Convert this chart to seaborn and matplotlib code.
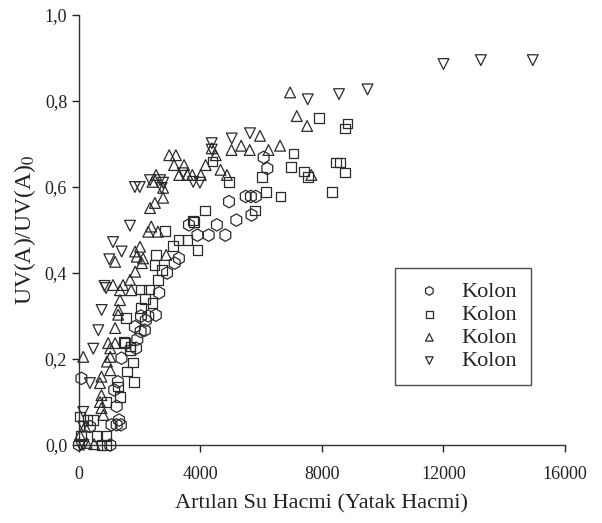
import matplotlib
matplotlib.use("Agg")
import matplotlib.pyplot as plt
import seaborn as sns
from matplotlib.ticker import FuncFormatter

# series 1 (hexagon)
hex_x = [0, 80, 360, 1030, 1070, 1240, 1320, 1380, 1240, 1160, 1280, 1400, 1880, 1920, 2030,
         2040, 1840, 2170, 2200, 2280, 2530, 2640, 2900, 3150, 3290, 3620, 3900, 4270, 4540,
         4820, 4940, 5180, 5490, 5660, 5820, 5680, 6080, 6200]
hex_y = [0.0, 0.155, 0.043, 0.0, 0.047, 0.047, 0.058, 0.047, 0.09, 0.128, 0.147, 0.202, 0.225,
         0.246, 0.264, 0.30, 0.275, 0.267, 0.29, 0.30, 0.302, 0.354, 0.40, 0.423, 0.434, 0.512,
         0.488, 0.488, 0.512, 0.488, 0.566, 0.523, 0.578, 0.578, 0.578, 0.535, 0.669, 0.643]

# series 2 (square)
sq_x = [30, 70, 280, 470, 580, 740, 910, 910, 910, 1290, 1350, 1480, 1510, 1540, 1590, 1680,
        1700, 1770, 1810, 2050, 2050, 2170, 2300, 2420, 2480, 2540, 2610, 2730, 2840, 3100,
        3280, 3570, 3750, 3790, 3900, 4150, 4390, 4940, 5800, 6030, 6150, 6630, 6980, 7060,
        7400, 7540, 7900, 8330, 8460, 8590, 8750, 8760, 8840]
sq_y = [0.066, 0.021, 0.058, 0.058, 0.021, 0.0, 0.0, 0.021, 0.10, 0.136, 0.112, 0.24, 0.237,
        0.295, 0.171, 0.221, 0.229, 0.192, 0.147, 0.362, 0.318, 0.339, 0.362, 0.330, 0.419,
        0.442, 0.384, 0.407, 0.498, 0.463, 0.477, 0.477, 0.522, 0.519, 0.453, 0.545, 0.659,
        0.612, 0.545, 0.624, 0.589, 0.578, 0.647, 0.678, 0.636, 0.623, 0.76, 0.588, 0.657,
        0.657, 0.634, 0.736, 0.748]

# series 3 (triangle up)
up_x = [30, 250, 500, 200, 140, 800, 740, 690, 740, 690, 740, 1030, 920, 1030, 1030, 960,
        1190, 1190, 1290, 1290, 1350, 1350, 1720, 1120, 1450, 1680, 1850, 2070, 1190, 2110,
        1900, 2870, 1850, 2010, 2280, 2600, 2380, 2340, 2500, 2770, 2770, 2420, 2540, 2970,
        3190, 3130, 3460, 3300, 3570, 3730, 4010, 4170, 4370, 4500, 4660, 4870, 5020, 5340,
        5620, 5960, 6240, 6620, 6950, 7170, 7510, 7650]
up_y = [0.023, 0.005, 0.002, 0.043, 0.205, 0.07, 0.086, 0.10, 0.116, 0.144, 0.159, 0.174,
        0.194, 0.205, 0.225, 0.237, 0.237, 0.272, 0.303, 0.314, 0.337, 0.36, 0.36, 0.372,
        0.372, 0.384, 0.403, 0.423, 0.426, 0.434, 0.438, 0.442, 0.45, 0.461, 0.496, 0.496,
        0.508, 0.551, 0.563, 0.575, 0.598, 0.612, 0.628, 0.674, 0.674, 0.651, 0.651, 0.628,
        0.628, 0.628, 0.628, 0.651, 0.69, 0.674, 0.64, 0.628, 0.686, 0.696, 0.686, 0.719,
        0.686, 0.696, 0.82, 0.765, 0.742, 0.628]

# series 4 (triangle down)
dn_x = [50, 150, 140, 140, 360, 470, 636, 746, 890, 840, 998, 1120, 1405, 1680, 1840, 2000,
        2340, 2670, 2720, 2770, 3420, 3760, 3980, 4370, 4370, 5030, 5630, 7530, 8560, 9500,
        12000, 13230, 14940]
dn_y = [0.0, 0.0, 0.043, 0.077, 0.144, 0.224, 0.267, 0.314, 0.365, 0.37, 0.432, 0.472, 0.45,
        0.51, 0.60, 0.60, 0.616, 0.616, 0.598, 0.61, 0.632, 0.612, 0.61, 0.702, 0.687, 0.713,
        0.725, 0.804, 0.816, 0.827, 0.886, 0.895, 0.895]

labels = ["Kolon", "Kolon", "Kolon", "Kolon"]
x_ticks = [0, 4000, 8000, 12000, 16000]
y_ticks = [0.0, 0.2, 0.4, 0.6, 0.8, 1.0]

sns.set_style("ticks")
plt.rcParams["font.family"] = ["Liberation Serif", "DejaVu Serif"]
plt.rcParams["mathtext.fontset"] = "stix"

fig = plt.figure(figsize=(6.02, 5.23), dpi=100)
ax = fig.add_axes([0.1312, 0.1491, 0.8073, 0.8222])

series = [(hex_x, hex_y, "h", 80), (sq_x, sq_y, "s", 48),
          (up_x, up_y, "^", 60), (dn_x, dn_y, "v", 60)]
for (xs, ys, m, s), lab in zip(series, labels):
    sns.scatterplot(x=xs, y=ys, marker=m, s=s, edgecolor="#2a2a2a", linewidth=0.9,
                    label=lab, clip_on=False, ax=ax, zorder=3)
    ax.collections[-1].set_facecolor("none")

ax.set_xlim(0, 16000)
ax.set_ylim(0, 1.0)
ax.set_xticks(x_ticks)
ax.set_yticks(y_ticks)
ax.yaxis.set_major_formatter(FuncFormatter(lambda v, p: f"{v:.1f}".replace(".", ",")))
ax.tick_params(labelsize=13, length=5, width=1, colors="#222")
ax.tick_params(axis="x", pad=10)
sns.despine(ax=ax)
for sp in ["left", "bottom"]:
    ax.spines[sp].set_linewidth(1)
    ax.spines[sp].set_color("#333")

ax.set_xlabel("Artılan Su Hacmi (Yatak Hacmi)", fontsize=16, color="#222", labelpad=8)
ax.set_ylabel("UV(A)/UV(A)$_0$", fontsize=17, color="#222", labelpad=5)

leg = ax.legend(loc="upper left", bbox_to_anchor=(0.650, 0.412), borderaxespad=0,
                frameon=True, fancybox=False, edgecolor="#222", fontsize=16,
                markerscale=0.7, handletextpad=0.5, labelspacing=0.12, borderpad=0.6,
                handlelength=1.9)
leg.get_frame().set_linewidth(1)

fig.savefig("out.png", dpi=100)
